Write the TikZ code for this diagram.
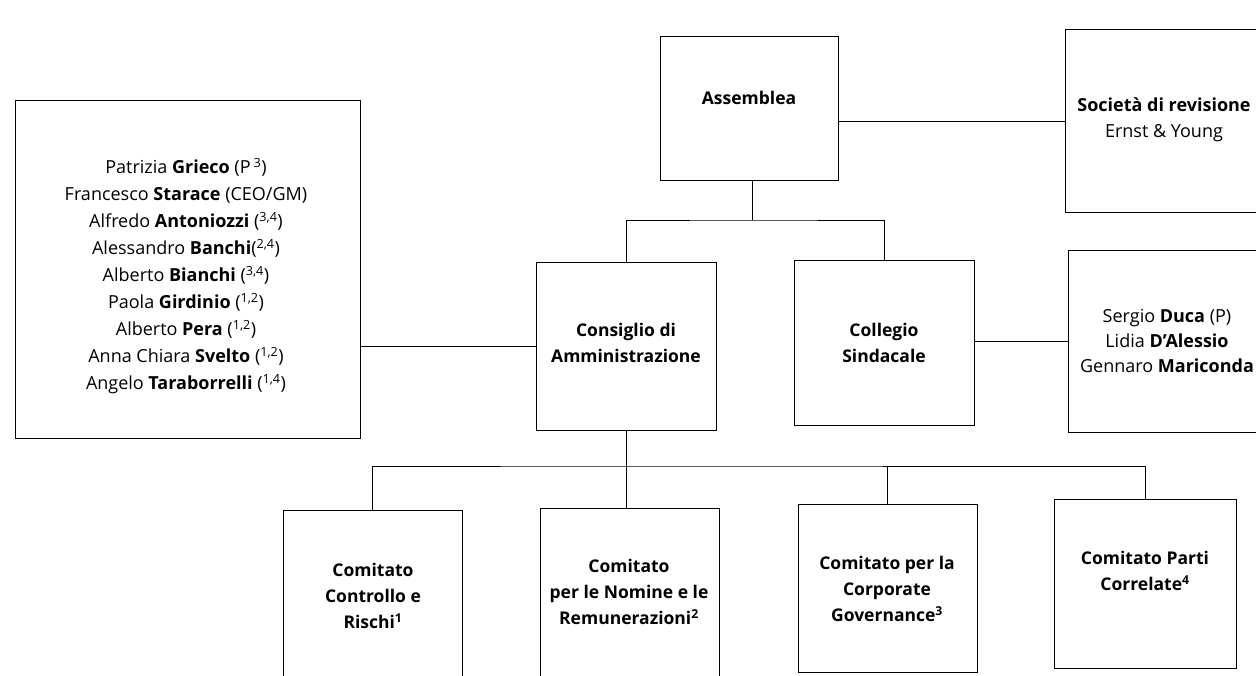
\documentclass[tikz,border=0pt]{standalone}
\usepackage{fontspec}
\setmainfont{Open Sans}
\usepackage{tikz}
\usetikzlibrary{calc, positioning}

\begin{document}
\begin{tikzpicture}[x=1pt, y=-1pt, line width=1pt,
    orgbox/.style={draw, inner sep=0pt},
    titletext/.style={align=center, font=\fontsize{17.5}{26}\selectfont\bfseries},
    nametext/.style={align=center, font=\fontsize{18}{27}\selectfont}]
  \path[use as bounding box, fill=white] (0,0) rectangle (1256,675);

  % top level
  \node[orgbox, minimum width=178, minimum height=144] (assemblea) at (749,108) {};
  \node[titletext] (assembleaTxt) at (749,98) {Assemblea};
  \node[orgbox, minimum width=220, minimum height=183] (societa) at (1175,121) {};
  \node[nametext, font=\fontsize{18}{26}\selectfont] (societaTxt) at (1164,120) {\textbf{Società di revisione}\\Ernst \& Young};

  % boards
  \node[orgbox, minimum width=345, minimum height=338] (membri) at (187.5,269) {};
  \node[nametext] (membriTxt) at (186,276) {%
    Patrizia \textbf{Grieco} (P\,\textsuperscript{3})\\
    Francesco \textbf{Starace} (CEO/GM)\\
    Alfredo \textbf{Antoniozzi} (\textsuperscript{3,4})\\
    Alessandro \textbf{Banchi}(\textsuperscript{2,4})\\
    Alberto \textbf{Bianchi} (\textsuperscript{3,4})\\
    Paola \textbf{Girdinio} (\textsuperscript{1,2})\\
    Alberto \textbf{Pera} (\textsuperscript{1,2})\\
    Anna Chiara \textbf{Svelto} (\textsuperscript{1,2})\\
    Angelo \textbf{Taraborrelli} (\textsuperscript{1,4})};
  \node[orgbox, minimum width=180, minimum height=168] (consiglio) at (626,346) {};
  \node[titletext] (consiglioTxt) at (626,343) {Consiglio di\\Amministrazione};
  \node[orgbox, minimum width=180, minimum height=165] (collegio) at (884,342.5) {};
  \node[titletext] (collegioTxt) at (884,343) {Collegio\\Sindacale};
  \node[orgbox, minimum width=212, minimum height=182] (sindaci) at (1174,341) {};
  \node[nametext, font=\fontsize{18}{25}\selectfont] (sindaciTxt) at (1167,341)
    {Sergio \textbf{Duca} (P)\\Lidia \textbf{D’Alessio}\\Gennaro \textbf{Mariconda}};

  % committees
  \node[orgbox, minimum width=179, minimum height=190] (com1) at (372.5,605) {};
  \node[titletext] (com1Txt) at (373,596) {Comitato\\Controllo e\\Rischi\textsuperscript{1}};
  \node[orgbox, minimum width=179, minimum height=192] (com2) at (629.5,604) {};
  \node[titletext] (com2Txt) at (629,592) {Comitato\\per le Nomine e le\\Remunerazioni\textsuperscript{2}};
  \node[orgbox, minimum width=179, minimum height=168] (com3) at (887.5,588) {};
  \node[titletext] (com3Txt) at (887,589) {Comitato per la\\Corporate\\Governance\textsuperscript{3}};
  \node[orgbox, minimum width=182, minimum height=169] (com4) at (1145,583.5) {};
  \node[titletext] (com4Txt) at (1145,571) {Comitato Parti\\Correlate\textsuperscript{4}};

  % connectors
  \coordinate (busTop) at (752,220);
  \coordinate (busLow) at (626,466);
  \draw (assemblea.east |- societa.west) -- (societa.west);
  \draw (assemblea.south -| busTop) -- (busTop);
  \draw (consiglio.north) |- (busTop) -| (collegio.north);
  \draw (membri.east |- consiglio.west) -- (consiglio.west);
  \draw (collegio.east |- sindaci.west) -- (sindaci.west);
  \draw (consiglio.south) -- (consiglio.south |- com2.north);
  \draw (com1.north) |- (busLow) -| (com4.north);
  \draw (com3.north) -- (com3.north |- busLow);
\end{tikzpicture}
\end{document}
